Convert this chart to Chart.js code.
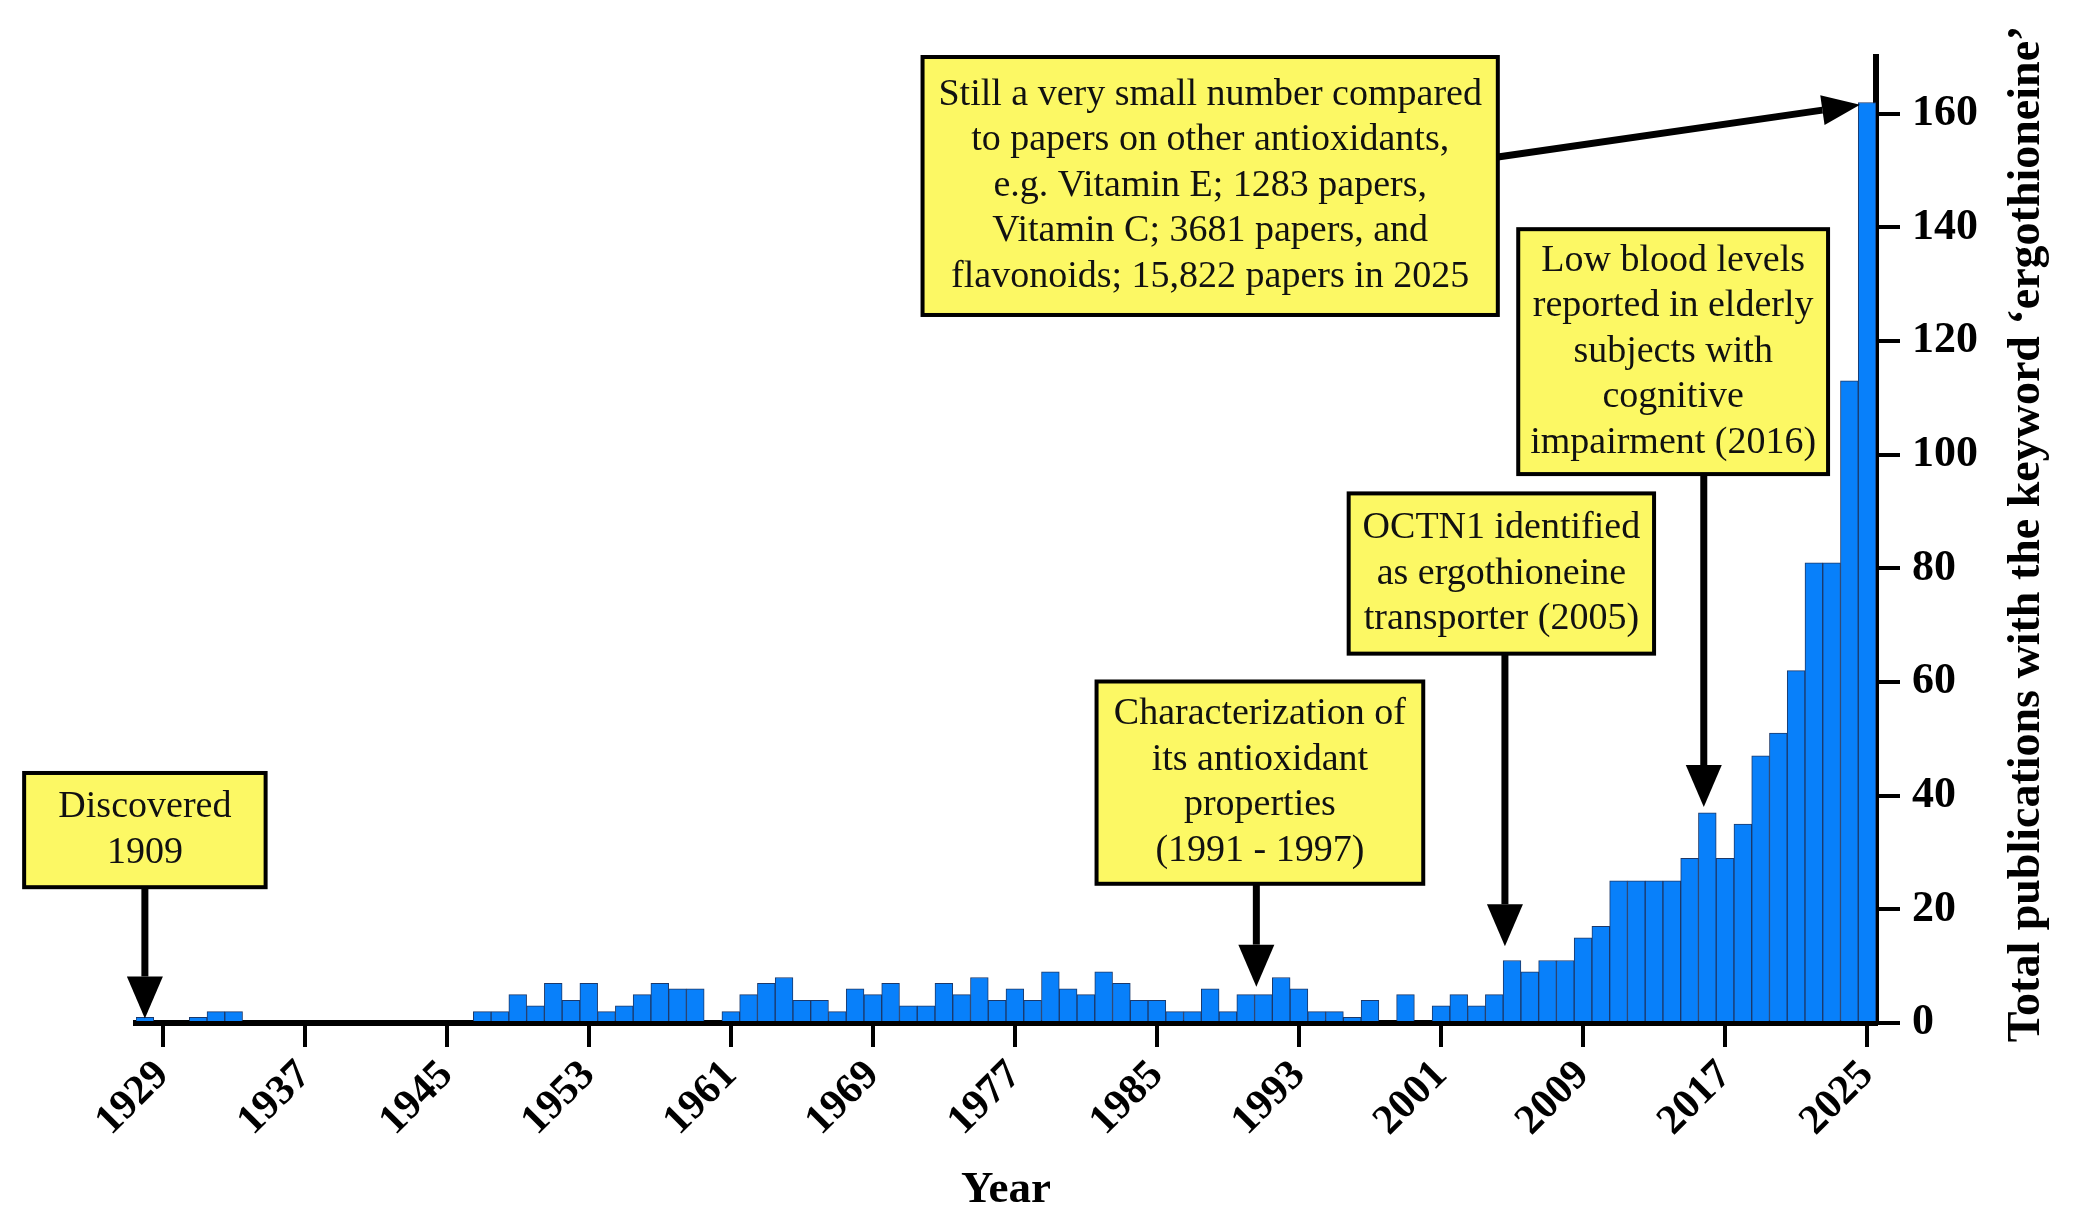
<!DOCTYPE html>
<html>
<head>
<meta charset="utf-8">
<script src="https://cdn.jsdelivr.net/npm/chart.js"></script>
<style>
  html, body { margin: 0; padding: 0; background: #fff; }
</style>
</head>
<body>
<canvas id="chart" width="2075" height="1231"></canvas>
<script>
// publications per year
const firstYear = 1928;
const lastYear = 2025;
const counts1928to1959 = [1, 0, 0, 1, 2, 2, 0, 0, 0, 0, 0, 0, 0, 0, 0, 0, 0, 0, 0,
  2, 2, 5, 3, 7, 4, 7, 2, 3, 5, 7, 6, 6];
const counts1960to1989 = [0, 2, 5, 7, 8, 4, 4, 2, 6, 5, 7, 3, 3, 7, 5, 8, 4, 6, 4, 9,
  6, 5, 9, 7, 4, 4, 2, 2, 6, 2];
const counts1990to2025 = [5, 5, 8, 6, 2, 2, 1, 4, 0, 5, 0, 3, 5, 3, 5, 11, 9, 11, 11, 15,
  17, 25, 25, 25, 25, 29, 37, 29, 35, 47, 51, 62, 81, 81, 113, 162];

const xTickYears = ["1929", "1937", "1945", "1953", "1961", "1969", "1977", "1985", "1993", "2001", "2009", "2017", "2025"];
const yTickValues = [0, 20, 40, 60, 80, 100, 120, 140, 160];

const years = [];
for (let y = firstYear; y <= lastYear; y++) years.push(String(y));
const counts = counts1928to1959.concat(counts1960to1989, counts1990to2025);

// callout boxes: box = [left year, right year, top value, bottom value], arrow = [year, value, year, value]
const notes = [
  { text: ["Discovered", "1909"], box: [1921.2, 1934.8, 44.0, 23.9], arrow: [1928, 23.9, 1928, 0.8] },
  { text: ["Characterization of", "its antioxidant", "properties", "(1991 - 1997)"],
    box: [1981.6, 2000.0, 60.1, 24.5], arrow: [1990.6, 24.5, 1990.6, 6.4] },
  { text: ["OCTN1 identified", "as ergothioneine", "transporter (2005)"],
    box: [1995.8, 2013.0, 93.2, 65.0], arrow: [2004.6, 65.0, 2004.6, 13.5] },
  { text: ["Low blood levels", "reported in elderly", "subjects with", "cognitive", "impairment (2016)"],
    box: [2005.35, 2022.8, 139.7, 96.6], arrow: [2015.8, 96.6, 2015.8, 38.0] },
  { text: ["Still a very small number compared", "to papers on other antioxidants,",
      "e.g. Vitamin E; 1283 papers,", "Vitamin C; 3681 papers, and", "flavonoids; 15,822 papers in 2025"],
    box: [1971.8, 2004.2, 170.0, 124.6], arrow: [2004.2, 152.4, 2024.6, 161.6] },
];

const serif = "'Liberation Serif', 'Times New Roman', serif";
Chart.defaults.font.family = serif;
Chart.defaults.color = "#000";

function drawArrow(ctx, x1, y1, x2, y2, headLen, headW) {
  const ang = Math.atan2(y2 - y1, x2 - x1);
  const bx = x2 - Math.cos(ang) * headLen;
  const by = y2 - Math.sin(ang) * headLen;
  ctx.beginPath();
  ctx.moveTo(x1, y1);
  ctx.lineTo(bx, by);
  ctx.lineWidth = 7;
  ctx.strokeStyle = "#000";
  ctx.stroke();
  const px = -Math.sin(ang) * headW / 2;
  const py = Math.cos(ang) * headW / 2;
  ctx.beginPath();
  ctx.moveTo(x2, y2);
  ctx.lineTo(bx + px, by + py);
  ctx.lineTo(bx - px, by - py);
  ctx.closePath();
  ctx.fillStyle = "#000";
  ctx.fill();
}

const calloutPlugin = {
  id: "callouts",
  afterDraw(chart) {
    const ctx = chart.ctx;
    const xs = chart.scales.x;
    const ys = chart.scales.y;
    const px = (yr) => xs.getPixelForValue(yr - firstYear);
    const py = (v) => ys.getPixelForValue(v);

    ctx.save();
    notes.forEach((n) => {
      const [l, r, t, b] = n.box;
      const x0 = px(l), x1 = px(r), y0 = py(t), y1 = py(b);
      const a = n.arrow;
      drawArrow(ctx, px(a[0]), py(a[1]), px(a[2]), py(a[3]), a[0] === a[2] ? 42 : 38, a[0] === a[2] ? 36 : 30);

      ctx.fillStyle = "#fcf864";
      ctx.fillRect(x0, y0, x1 - x0, y1 - y0);
      ctx.lineWidth = 4;
      ctx.strokeStyle = "#000";
      ctx.strokeRect(x0, y0, x1 - x0, y1 - y0);

      ctx.fillStyle = "#111";
      ctx.font = "38px " + serif;
      ctx.textAlign = "center";
      ctx.textBaseline = "middle";
      const lh = 45.5;
      const cx = (x0 + x1) / 2;
      const cy = (y0 + y1) / 2 - (n.text.length - 1) * lh / 2;
      n.text.forEach((line, i) => ctx.fillText(line, cx, cy + i * lh));
    });

    // y axis title, reading bottom to top on the right side
    const area = chart.chartArea;
    ctx.translate(ys.right - 48, (area.top + area.bottom) / 2 - 6);
    ctx.rotate(-Math.PI / 2);
    ctx.font = "bold 46px " + serif;
    ctx.fillStyle = "#000";
    ctx.textAlign = "center";
    ctx.textBaseline = "middle";
    ctx.fillText("Total publications with the keyword \u2018ergothioneine\u2019", 0, 0);
    ctx.restore();
  },
};

new Chart(document.getElementById("chart"), {
  type: "bar",
  data: {
    labels: years,
    datasets: [
      {
        data: counts,
        backgroundColor: "rgb(8, 128, 250)",
        borderColor: "rgb(28, 56, 105)",
        borderWidth: 1,
        barPercentage: 1,
        categoryPercentage: 1,
      },
    ],
  },
  options: {
    responsive: false,
    animation: false,
    layout: { padding: { left: 136, top: 57, right: 0, bottom: 0 } },
    plugins: {
      legend: { display: false },
      tooltip: { enabled: false },
    },
    scales: {
      x: {
        z: 1,
        grid: { offset: false, drawOnChartArea: false, tickLength: 24, lineWidth: 4, color: "#000" },
        border: { color: "#000", width: 6 },
        ticks: {
          autoSkip: false,
          minRotation: 45,
          maxRotation: 45,
          padding: 4,
          color: "#000",
          font: { size: 42, weight: "bold" },
        },
        afterBuildTicks: (axis) => {
          axis.ticks = xTickYears.map((y) => ({ value: years.indexOf(y) }));
        },
        afterFit: (axis) => {
          axis.height = 208;
        },
        title: {
          display: true,
          text: "Year",
          color: "#000",
          font: { size: 45, weight: "bold" },
          padding: { top: 0, bottom: 14 },
        },
      },
      y: {
        position: "right",
        min: 0,
        max: 170,
        z: 1,
        grid: { drawOnChartArea: false, tickLength: 24, lineWidth: 4, color: "#000" },
        border: { color: "#000", width: 6 },
        ticks: {
          includeBounds: false,
          stepSize: 20,
          padding: 12,
          color: "#000",
          font: { size: 44, weight: "bold" },
        },
        afterBuildTicks: (axis) => {
          axis.ticks = yTickValues.map((v) => ({ value: v }));
        },
        afterFit: (axis) => {
          axis.width = 199;
        },
      },
    },
  },
  plugins: [calloutPlugin],
});
</script>
</body>
</html>
